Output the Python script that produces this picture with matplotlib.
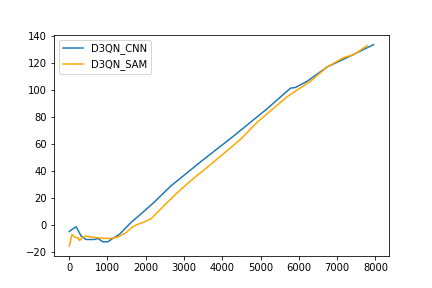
import matplotlib
matplotlib.use("Agg")
import matplotlib.pyplot as plt

cnn_x = [0, 90, 180, 312, 443, 660, 747, 877, 1007, 1137, 1311, 1615, 1875,
         2222, 2656, 2917, 3437, 3698, 4305, 5174, 5781, 5911, 6215, 6736,
         7257, 7951]
cnn_y = [-4.8, -3, -1.3, -8.2, -10.8, -10.8, -10, -12.5, -12.5, -10, -7, 1.9, 8.2,
         17, 29, 35, 47, 52.8, 66.3, 86.4, 101.6, 102.1, 106.7, 117.3,
         124.3, 133.9]

sam_x = [0, 70, 140, 226, 270, 356, 443, 573, 747, 920, 1094, 1267, 1484,
         1615, 1745, 1919, 2135, 2526, 2917, 3307, 3698, 4479, 4914, 5695,
         6302, 6736, 7170, 7430, 7778]
sam_y = [-15.8, -7, -9, -9.5, -11.5, -9, -8.2, -9, -9.5, -10, -10, -9, -5.7,
         -2.4, 0, 1.8, 4.5, 15.8, 26.5, 36, 45, 63.7, 76.4, 95.3,
         106.7, 117.3, 124.3, 126.4, 133.2]

plt.figure(figsize=(6, 4), dpi=72)
plt.plot(cnn_x, cnn_y, label='D3QN_CNN')
plt.plot(sam_x, sam_y, color='orange', label='D3QN_SAM')
plt.legend(loc='upper left')
plt.savefig('out.png')
